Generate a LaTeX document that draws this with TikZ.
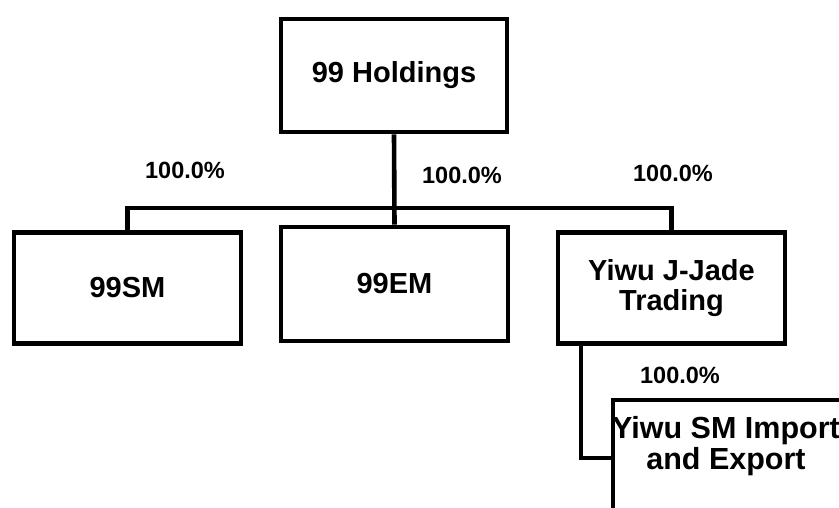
\documentclass[tikz,border=0pt]{standalone}
\usepackage{fontspec}
\setmainfont{Liberation Sans}
\usetikzlibrary{backgrounds}
\begin{document}
\begin{tikzpicture}[x=1pt,y=-1pt,
  entity/.style={draw=black,line width=4.6pt,fill=white,inner sep=0pt,
    align=center,font=\bfseries\fontsize{29}{30}\selectfont},
  compname/.style={align=center,inner sep=0pt,font=\bfseries\fontsize{30.5}{31}\selectfont},
  share/.style={font=\bfseries\fontsize{23.5}{26}\selectfont,inner sep=0pt},
  link/.style={draw=black,line width=4.6pt}]
\useasboundingbox (0,0) rectangle (839,507);
\clip (0,0) rectangle (839,507);

% companies
\node[entity,minimum width=226pt,minimum height=113pt] (hold) at (394,75.5) {99 Holdings};
\node[entity,minimum width=227pt,minimum height=111pt] (sm) at (127.5,288) {99SM};
\node[entity,minimum width=227pt,minimum height=114pt] (em) at (394.5,284) {99EM};
\node[entity,minimum width=227pt,minimum height=111pt] (jj) at (671.5,288) {Yiwu J-Jade\\Trading};
\node[entity,minimum width=260pt,minimum height=116pt] (ysm) at (743,458) {};
\node[compname] (ysmname) at (726,446) {Yiwu SM Import\\and Export};

% ownership lines behind the boxes
\coordinate (bus) at (0,208);
\coordinate (subbend) at (581,458);
\begin{scope}[on background layer]
\draw[link] (hold.south) -- (em.north);
\draw[link] (sm.north) |- (jj.north |- bus) -- (jj.north);
\draw[link] (jj.south -| subbend) |- (ysm.west |- subbend);
\end{scope}

% holdings
\node[share] (p1) at (185,170) {100.0\%};
\node[share] (p2) at (462,175) {100.0\%};
\node[share] (p3) at (673,173) {100.0\%};
\node[share] (p4) at (680,375) {100.0\%};
\end{tikzpicture}
\end{document}
